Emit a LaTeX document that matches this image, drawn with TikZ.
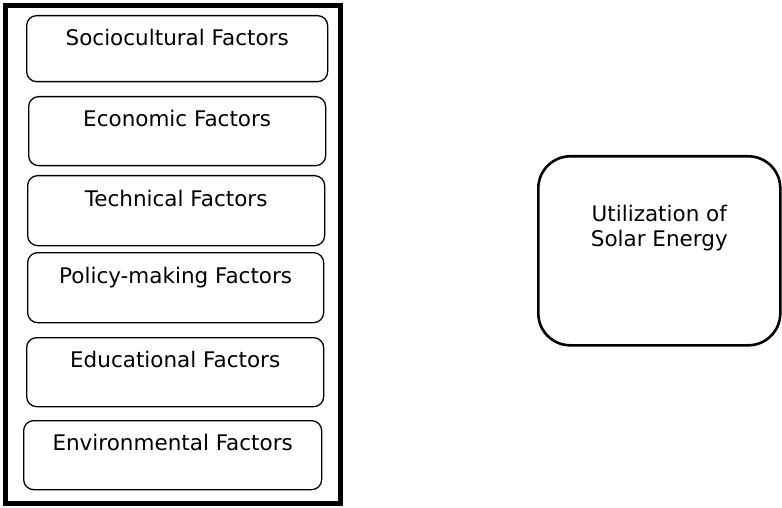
\documentclass[tikz,border=0pt]{standalone}
\usepackage{fontspec}
\setmainfont{DejaVu Sans}
\begin{document}
\begin{tikzpicture}[x=1pt,y=-1pt,
  factor/.style={draw=black,line width=1.3pt,rounded corners=10pt,inner sep=0pt,anchor=north west},
  lbl/.style={font=\fontsize{21.5}{25}\selectfont,inner sep=0pt,anchor=base},
  frame/.style={draw=black,line width=5pt},
  target/.style={draw=black,line width=2.6pt,rounded corners=32pt,inner sep=0pt,anchor=north west}]
\useasboundingbox (0,0) rectangle (782,508);
\node[frame,inner sep=0pt,anchor=north west,minimum width=335pt,minimum height=498pt] (outer) at (3,3) {};
\node[factor,minimum width=301pt,minimum height=66pt] (b1) at (26,15) {};
\node[factor,minimum width=297pt,minimum height=69pt] (b2) at (28,96) {};
\node[factor,minimum width=297pt,minimum height=70pt] (b3) at (27,175) {};
\node[factor,minimum width=296pt,minimum height=70pt] (b4) at (27,252) {};
\node[factor,minimum width=297pt,minimum height=69pt] (b5) at (26,337) {};
\node[factor,minimum width=298pt,minimum height=69pt] (b6) at (23,420) {};
\node[lbl] (t1) at ([yshift=-31pt]b1.north) {Sociocultural Factors};
\node[lbl] (t2) at ([yshift=-31pt]b2.north) {Economic Factors};
\node[lbl] (t3) at ([yshift=-31pt]b3.north) {Technical Factors};
\node[lbl] (t4) at ([yshift=-31pt]b4.north) {Policy-making Factors};
\node[lbl] (t5) at ([yshift=-30pt]b5.north) {Educational Factors};
\node[lbl] (t6) at ([yshift=-30pt]b6.north) {Environmental Factors};
\node[target,minimum width=242pt,minimum height=189pt] (u) at (537,155) {};
\node[lbl] (u1) at ([yshift=-66pt]u.north) {Utilization of};
\node[lbl] (u2) at ([yshift=-91pt]u.north) {Solar Energy};
\end{tikzpicture}
\end{document}
